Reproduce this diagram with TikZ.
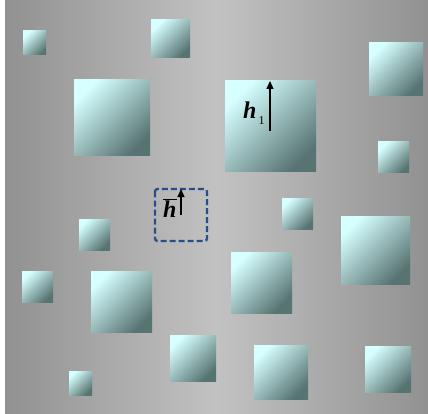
\documentclass[tikz,border=0pt]{standalone}
\usepackage{fontspec}
\setmainfont{Liberation Serif}
\usetikzlibrary{arrows.meta}

\definecolor{bgedge}{RGB}{145,145,145}
\definecolor{bgmid}{RGB}{194,194,194}
\definecolor{celllight}{RGB}{214,255,255}
\definecolor{celldark}{RGB}{88,116,114}
\definecolor{boxblue}{RGB}{40,78,136}

\begin{document}
\begin{tikzpicture}[x=1pt, y=-1pt,
    cell/.style={top color=celllight, bottom color=celldark, shading angle=45},
    avgbox/.style={draw=boxblue, line width=2.3pt, dash pattern=on 6pt off 3pt, rounded corners=2.5pt},
    lbl/.style={font=\fontsize{24}{24}\selectfont\bfseries\itshape, inner sep=0pt},
    arr/.style={->, line width=1.2pt},
    >={Triangle[length=8pt, width=7pt]}
  ]
    \useasboundingbox (0,0) rectangle (428,414);
    \shade[left color=bgedge, right color=bgedge, middle color=bgmid] (5,1) rectangle (428,414);

    % the squares
    \foreach \xa/\ya/\xb/\yb in {23/31/46/55, 151/20/190/58, 369/43/423/96, 74/80/150/156,
        225/81/316/172, 378/142/409/173, 282/198/313/229, 79/219/110/250, 341/216/410/284,
        22/271/53/302, 91/271/152/332, 231/252/292/313, 170/335/216/381, 254/345/308/399,
        365/346/411/392, 69/371/92/395}
      \shade[cell] (\xa,\ya) rectangle (\xb,\yb);

    \draw[avgbox] (155,189) rectangle (207,241);

    \coordinate (hone-tail) at (270,131);
    \coordinate (hone-tip) at (270,81);
    \coordinate (hbar-tail) at (181,215);
    \coordinate (hbar-tip) at (181,189);
    \draw[arr] (hone-tail) -- (hone-tip);
    \draw[arr] (hbar-tail) -- (hbar-tip);

    \node[lbl, anchor=base west] (hone) at (243,119) {h\hspace{2pt}\raisebox{-6pt}{\normalfont\fontsize{12}{12}\selectfont 1}};
    \node[lbl, anchor=base west] (hbar) at (163,217) {$\overline{\hbox{h}}$};
  \end{tikzpicture}
\end{document}
